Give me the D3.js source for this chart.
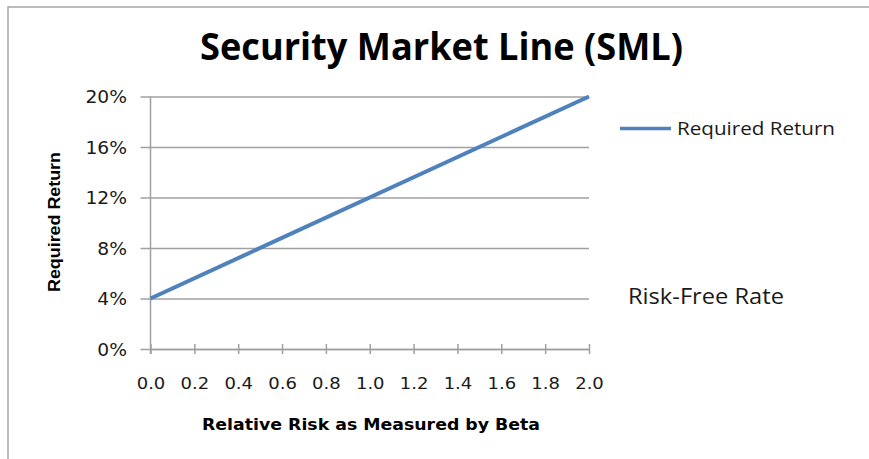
<!DOCTYPE html>
<html>
<head>
<meta charset="utf-8">
<script src="https://cdn.jsdelivr.net/npm/d3@7"></script>
<style>
  body { margin: 0; background: #fff; }
  svg { display: block; }
</style>
</head>
<body>
<div id="chart-area"></div>
<script>
// SML data
var betas = [0.0, 2.0];
var returns = [4, 20];
var xTicks = [0.0, 0.2, 0.4, 0.6, 0.8, 1.0, 1.2, 1.4, 1.6, 1.8, 2.0];
var yTicks = [0, 4, 8, 12, 16, 20];
var seriesName = "Required Return";

var width = 869;
var height = 459;

var svg = d3.select("#chart-area")
    .append("svg")
    .attr("width", width)
    .attr("height", height);

// the picture is a bit wide, so stretch text sideways
function stretch(sel, k) {
    sel.each(function() {
        var w = this.getComputedTextLength();
        d3.select(this)
            .attr("textLength", w * k)
            .attr("lengthAdjust", "spacingAndGlyphs");
    });
}

// chart frame
svg.append("rect")
    .attr("x", 8)
    .attr("y", 7)
    .attr("width", width)
    .attr("height", height)
    .attr("fill", "none")
    .attr("stroke", "#a6a6a6")
    .attr("stroke-width", 1.5);

var x = d3.scaleLinear().domain([0, 2]).range([150.5, 589]);
var y = d3.scaleLinear().domain([0, 20]).range([349, 96.5]);

// gridlines + y ticks
var yAxis = svg.append("g")
    .attr("transform", "translate(150.5,0)")
    .call(d3.axisLeft(y).tickValues(yTicks)
        .tickSize(-(589 - 150.5))
        .tickSizeOuter(0)
        .tickPadding(23.5)
        .tickFormat(function(d) { return d + "%"; }));
yAxis.select(".domain").remove();
yAxis.selectAll(".tick line")
    .attr("x1", -10)
    .attr("stroke", "#a0a0a0")
    .attr("stroke-width", 1.5);
yAxis.selectAll("text")
    .attr("dy", "0.36em")
    .attr("font-family", "DejaVu Sans, Verdana, sans-serif")
    .attr("font-size", 17)
    .attr("fill", "#1a1a1a")
    .call(stretch, 1.1);

// y axis line
svg.append("line")
    .attr("x1", 150.5).attr("x2", 150.5)
    .attr("y1", 96.5).attr("y2", 354)
    .attr("stroke", "#a0a0a0")
    .attr("stroke-width", 1.5);

// x axis
var xAxis = svg.append("g")
    .attr("transform", "translate(0,349)")
    .call(d3.axisBottom(x).tickValues(xTicks)
        .tickSize(5)
        .tickSizeOuter(0)
        .tickPadding(0)
        .tickFormat(d3.format(".1f")));
xAxis.select(".domain")
    .attr("stroke", "#a0a0a0")
    .attr("stroke-width", 1.5);
xAxis.selectAll(".tick line")
    .attr("y1", -5)
    .attr("stroke", "#a0a0a0")
    .attr("stroke-width", 1.5);
xAxis.selectAll("text")
    .attr("y", 40)
    .attr("dy", 0)
    .attr("font-family", "DejaVu Sans, Verdana, sans-serif")
    .attr("font-size", 15)
    .attr("fill", "#1a1a1a")
    .call(stretch, 1.2);

// the line
var line = d3.line()
    .x(function(d, i) { return x(betas[i]); })
    .y(function(d) { return y(d); });

svg.append("path")
    .datum(returns)
    .attr("d", line)
    .attr("fill", "none")
    .attr("stroke", "#4f81bd")
    .attr("stroke-width", 4);

// title
svg.append("text")
    .attr("x", 441.5)
    .attr("y", 60)
    .attr("text-anchor", "middle")
    .attr("font-family", "Open Sans, sans-serif")
    .attr("font-weight", "bold")
    .attr("font-size", 37)
    .attr("fill", "#000")
    .attr("textLength", 483)
    .attr("lengthAdjust", "spacingAndGlyphs")
    .text("Security Market Line (SML)");

// axis titles
svg.append("text")
    .attr("x", 371)
    .attr("y", 430)
    .attr("text-anchor", "middle")
    .attr("font-family", "DejaVu Sans, Tahoma, sans-serif")
    .attr("font-weight", "bold")
    .attr("font-size", 16)
    .attr("fill", "#000")
    .attr("textLength", 338)
    .attr("lengthAdjust", "spacingAndGlyphs")
    .text("Relative Risk as Measured by Beta");

svg.append("text")
    .attr("transform", "translate(60,222) rotate(-90)")
    .attr("text-anchor", "middle")
    .attr("font-family", "Liberation Sans Narrow, Arial Narrow, sans-serif")
    .attr("font-weight", "bold")
    .attr("font-size", 17)
    .attr("fill", "#000")
    .attr("textLength", 140)
    .attr("lengthAdjust", "spacingAndGlyphs")
    .text("Required Return");

// legend
var legend = svg.append("g").attr("transform", "translate(620,128.5)");
legend.append("line")
    .attr("x1", 0).attr("x2", 51)
    .attr("stroke", "#4f81bd")
    .attr("stroke-width", 3.5);
legend.append("text")
    .attr("x", 57)
    .attr("y", 6.5)
    .attr("font-family", "Open Sans, sans-serif")
    .attr("font-size", 18)
    .attr("fill", "#1a1a1a")
    .attr("textLength", 158)
    .attr("lengthAdjust", "spacingAndGlyphs")
    .text(seriesName);

// annotation
svg.append("text")
    .attr("x", 628)
    .attr("y", 304)
    .attr("font-family", "Open Sans, sans-serif")
    .attr("font-size", 21)
    .attr("fill", "#1a1a1a")
    .attr("textLength", 156)
    .attr("lengthAdjust", "spacingAndGlyphs")
    .text("Risk-Free Rate");
</script>
</body>
</html>
